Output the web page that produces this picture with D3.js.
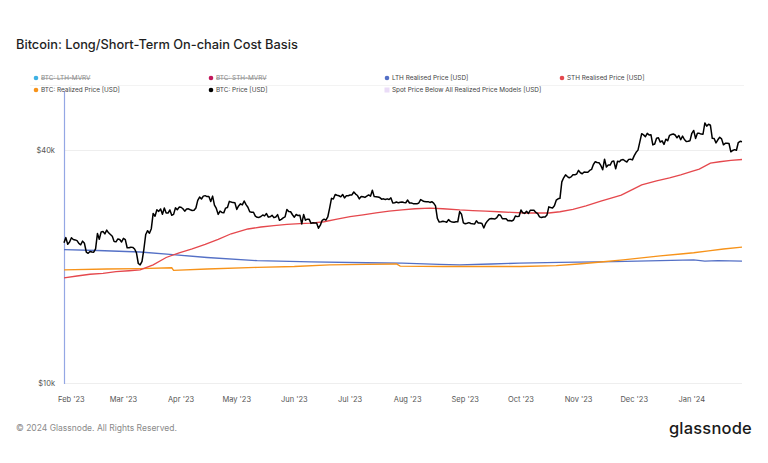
<!DOCTYPE html>
<html>
<head>
<meta charset="utf-8">
<script src="https://cdn.jsdelivr.net/npm/d3@7"></script>
<style>
html,body{margin:0;padding:0;background:#fff;}
svg{display:block;font-family:Inter,"Noto Sans",sans-serif;}
</style>
</head>
<body>
<svg id="chart" width="768" height="463"></svg>
<script>
// ---------- DATA ----------
const priceStart = "2023-01-28"; // daily closes from this date
const btcPrice = [
23030,23750,22840,23130,
23730,23490,23430,23330,22940,22760,23260,22960,21800,21630,21860,21790,21780,22200,24330,23520,24570,24630,24280,24840,24440,24190,23940,23190,23160,23560,23490,23140,
23640,23470,22360,22350,22430,22410,22200,21700,20360,20190,20630,22160,24200,24750,24380,25050,27430,26970,28040,27770,28170,27300,28330,27490,27490,27990,27140,27270,28350,28030,28480,
28460,28200,27800,28170,28180,28040,27920,27950,28330,29650,30240,29890,30400,30490,30320,30320,29430,30400,28820,28250,27270,27820,27590,27520,28310,28420,29470,29340,29250,29230,
28090,28680,29030,28850,29530,28900,28450,27690,27630,27620,26990,26800,26780,26930,27170,27030,27400,26830,26890,27120,26750,26850,27230,26330,26480,26720,26870,28080,27740,27700,27210,
26820,27250,27080,27120,25760,27240,26350,26500,26480,25850,25940,25900,25920,25120,25580,26330,26510,26340,26850,28310,30000,29890,30700,30550,30470,30270,30700,30080,30450,30480,
30590,30620,31160,30770,30510,29900,30350,30290,30170,30410,30620,30390,31480,30310,30300,30250,30140,29860,29910,29800,29910,29800,30080,29180,29230,29350,29210,29310,29350,29280,29230,
29700,29180,29180,29070,29050,29040,29180,29770,29580,29430,29400,29420,29280,29410,29170,28700,26630,26050,26100,26190,26120,26030,26430,26160,26050,26010,26090,26100,27730,27300,25930,
25800,25870,25970,25830,25780,25750,26240,25900,25900,25840,25160,25840,26230,26540,26600,26570,26530,26760,27210,27130,26570,26580,26580,26250,26300,26220,26370,27020,26910,26970,
27990,27530,27430,27790,27410,27950,27970,27940,27590,27390,26870,26760,26860,26860,27160,28520,28420,28330,28720,29680,29920,30000,33090,33900,34500,34160,33910,34090,34540,34500,34670,
35440,34940,34730,35080,35050,35050,35420,35630,36700,37310,37130,37070,36490,35550,37880,36150,36600,36570,37360,37450,35760,37420,37290,37720,37800,37480,37250,37830,37850,37710,
38690,39460,39970,41980,44080,43770,43290,44170,43720,43790,41240,41450,42890,43020,41930,42240,41360,42660,42260,43650,43860,43990,43740,43010,43610,42520,43440,42580,42070,42140,42280,
44180,44940,42850,44180,44160,43970,43930,46970,46110,46630,46340,42890,42850,41730,42510,43150,42740,41260,41620,41660,41580,39570,39890,40080,39930,41820,42120,42030
];

const sthDates = ["2023-01-28","2023-02-04","2023-02-11","2023-02-18","2023-02-25","2023-03-04","2023-03-10","2023-03-17","2023-03-24","2023-03-31","2023-04-07","2023-04-14","2023-04-21","2023-04-28","2023-05-07","2023-05-14","2023-05-21","2023-05-28","2023-06-04","2023-06-10","2023-06-17","2023-06-24","2023-07-01","2023-07-08","2023-07-15","2023-07-22","2023-07-29","2023-08-05","2023-08-13","2023-08-20","2023-08-29","2023-09-05","2023-09-12","2023-09-19","2023-09-26","2023-10-03","2023-10-10","2023-10-16","2023-10-22","2023-10-29","2023-11-05","2023-11-13","2023-11-19","2023-11-24","2023-12-01","2023-12-05","2023-12-13","2023-12-20","2023-12-26","2024-01-01","2024-01-05","2024-01-11","2024-01-16","2024-01-22","2024-01-28"];
const sthRealised = [18700,18900,19100,19200,19400,19500,19600,20200,21100,21700,22200,22800,23500,24300,25000,25300,25500,25700,25800,25900,26100,26500,26900,27200,27500,27800,28000,28200,28300,28200,28000,27900,27800,27700,27600,27500,27500,27500,27700,28100,28700,29500,30100,30600,31800,32500,33300,33900,34500,35200,35700,37000,37300,37600,37800];

const lthDates = ["2023-01-28","2023-02-15","2023-03-10","2023-03-26","2023-04-15","2023-05-12","2023-06-10","2023-07-10","2023-07-29","2023-08-18","2023-08-29","2023-09-15","2023-09-30","2023-10-22","2023-11-20","2023-12-15","2024-01-02","2024-01-08","2024-01-15","2024-01-28"];
const lthRealised = [22100,22000,21800,21500,21100,20700,20550,20450,20400,20250,20200,20300,20400,20500,20600,20700,20800,20650,20700,20650];

const rpDates = ["2023-01-28","2023-02-20","2023-03-10","2023-03-27","2023-03-28","2023-04-15","2023-05-12","2023-06-01","2023-06-20","2023-07-10","2023-07-26","2023-07-28","2023-08-20","2023-09-15","2023-10-01","2023-10-20","2023-11-01","2023-11-13","2023-11-25","2023-12-05","2023-12-15","2023-12-26","2024-01-02","2024-01-10","2024-01-18","2024-01-28"];
const realizedPrice = [19600,19700,19750,19850,19550,19700,19900,20000,20200,20250,20300,20050,20000,20000,20000,20100,20300,20550,20800,21050,21300,21550,21700,21950,22200,22450];

const yTicks = [10000, 40000];
const yTickLabels = ["$10k", "$40k"];
const xTickDates = ["2023-02-01","2023-03-01","2023-04-01","2023-05-01","2023-06-01","2023-07-01","2023-08-01","2023-09-01","2023-10-01","2023-11-01","2023-12-01","2024-01-01"];
const xTickLabels = ["Feb '23","Mar '23","Apr '23","May '23","Jun '23","Jul '23","Aug '23","Sep '23","Oct '23","Nov '23","Dec '23","Jan '24"];

const legendItems = [
  {label:"BTC: LTH-MVRV", color:"#3fb1e3", hidden:true, shape:"circle"},
  {label:"BTC: STH-MVRV", color:"#c2185b", hidden:true, shape:"circle"},
  {label:"LTH Realised Price [USD]", color:"#5470c6", hidden:false, shape:"circle"},
  {label:"STH Realised Price [USD]", color:"#e5484d", hidden:false, shape:"circle"},
  {label:"BTC: Realized Price [USD]", color:"#f7931a", hidden:false, shape:"circle"},
  {label:"BTC: Price [USD]", color:"#000000", hidden:false, shape:"circle"},
  {label:"Spot Price Below All Realized Price Models [USD]", color:"#eadcf7", hidden:false, shape:"square"}
];

// ---------- CHART ----------
const parse = d3.utcParse("%Y-%m-%d");
const svg = d3.select("#chart");
svg.append("rect").attr("width",768).attr("height",463).attr("fill","#fff");

const x = d3.scaleUtc().domain([parse("2023-01-28"), parse("2024-01-28")]).range([64, 742]);
const y = d3.scaleLog().domain([10000, 40000]).range([383, 150]);

// title
svg.append("text").attr("x",16).attr("y",49).attr("font-size",12.8).attr("font-weight",500)
  .attr("fill","#1f1f1f").text("Bitcoin: Long/Short-Term On-chain Cost Basis");

// top faint line
svg.append("line").attr("x1",30).attr("x2",744).attr("y1",85.5).attr("y2",85.5).attr("stroke","#f3f3f3");

// grid lines
svg.append("g").selectAll("line").data(yTicks).join("line")
  .attr("x1",64).attr("x2",742).attr("y1",d=>Math.round(y(d))+0.5).attr("y2",d=>Math.round(y(d))+0.5)
  .attr("stroke","#eeeeee");

// y labels
svg.append("g").selectAll("text").data(yTicks).join("text")
  .attr("x",55).attr("y",d=>y(d)).attr("dy","0.35em").attr("text-anchor","end")
  .attr("font-size",7.5).attr("fill","#555").text((d,i)=>yTickLabels[i]);

// x labels
svg.append("g").selectAll("text").data(xTickDates).join("text")
  .attr("x",d=>x(parse(d))).attr("y",399).attr("dy","0.35em").attr("text-anchor","middle")
  .attr("font-size",7.5).attr("fill","#555").text((d,i)=>xTickLabels[i]);

// y axis line (blue)
svg.append("line").attr("x1",64.5).attr("x2",64.5).attr("y1",91).attr("y2",384).attr("stroke","#94a7e4").attr("stroke-width",1.2);

const line = d3.line().x(d=>x(d[0])).y(d=>y(d[1]));
const start = parse(priceStart);
const priceData = btcPrice.map((v,i)=>[d3.utcDay.offset(start,i), v]);
const lthData = lthDates.map((d,i)=>[parse(d), lthRealised[i]]);
const rpData = rpDates.map((d,i)=>[parse(d), realizedPrice[i]]);
const sthData = sthDates.map((d,i)=>[parse(d), sthRealised[i]]);

svg.append("path").datum(lthData).attr("d",line).attr("fill","none").attr("stroke","#5470c6").attr("stroke-width",1.3);
svg.append("path").datum(rpData).attr("d",line).attr("fill","none").attr("stroke","#f7931a").attr("stroke-width",1.4);
svg.append("path").datum(sthData).attr("d",line).attr("fill","none").attr("stroke","#e5484d").attr("stroke-width",1.3);
svg.append("path").datum(priceData).attr("d",line).attr("fill","none").attr("stroke","#000").attr("stroke-width",1.5).attr("stroke-linejoin","round");

// legend
const legPos = [[36,78],[211,78],[387,78],[562,78],[36,90],[211,90],[387,90]];
const lg = svg.append("g").selectAll("g").data(legendItems).join("g")
  .attr("transform",(d,i)=>`translate(${legPos[i][0]},${legPos[i][1]})`);
lg.each(function(d){
  const g = d3.select(this);
  if(d.shape==="circle") g.append("circle").attr("r",2.3).attr("fill",d.color);
  else g.append("rect").attr("x",-2.5).attr("y",-2.5).attr("width",5).attr("height",5).attr("fill",d.color);
  g.append("text").attr("x",5).attr("dy","0.35em").attr("font-size",6.4).attr("fill",d.hidden?"#8a8a8a":"#444")
    .attr("text-decoration",d.hidden?"line-through":null).text(d.label);
});

// footer
svg.append("text").attr("x",16).attr("y",428).attr("dy","0.35em").attr("font-size",8.5).attr("fill","#8a8a8a")
  .text("© 2024 Glassnode. All Rights Reserved.");
svg.append("text").attr("x",752).attr("y",434).attr("text-anchor","end").attr("font-size",16.5).attr("font-weight",500)
  .attr("fill","#1a1a1a").attr("letter-spacing",0.2).text("glassnode");
</script>
</body>
</html>
